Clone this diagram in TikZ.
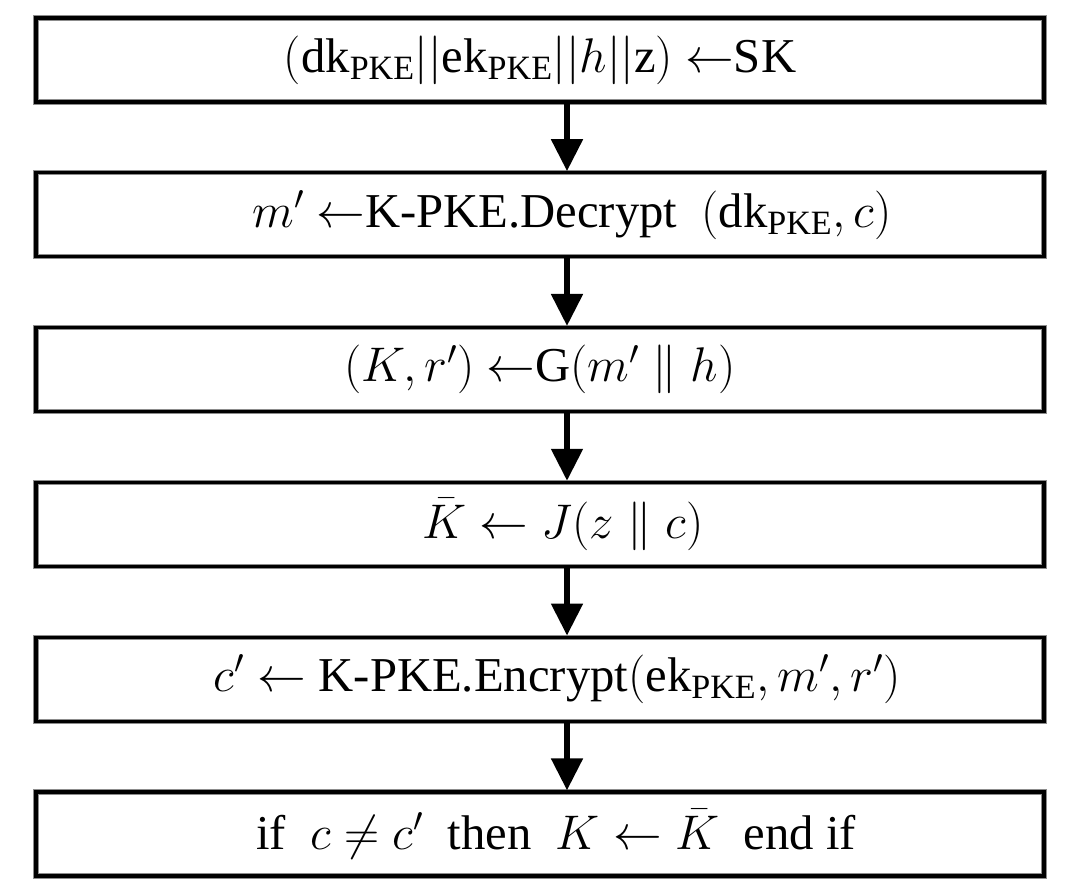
\RequirePackage{fix-cm}
\documentclass[tikz,border=0pt]{standalone}
\usepackage{fontspec}
\setmainfont{Liberation Serif}
\usetikzlibrary{positioning, arrows.meta}

\begin{document}
\begin{tikzpicture}[
  x=0.75pt, y=-0.75pt,              % 1 unit = 1 px of the reference
  >={Triangle[width=23pt, length=24pt]},
  font=\fontsize{36.5}{42}\selectfont,
  stepbox/.style={draw=black, line width=2.4pt,
    preaction={draw=black!45, line width=3.8pt},
    rectangle, minimum width=756pt, minimum height=63pt, inner sep=0pt},
  flow/.style={->, line width=4.5pt},
  node distance=50.7pt              % gap between the boxes
  ]
  \useasboundingbox (0,0) rectangle (1080,887);

  % x of the arrows
  \coordinate (ax) at (567,0);

  % --- boxes ---
  \node [stepbox] (sk) at (540,60)
    {$(\mathrm{dk}_{\mathrm{PKE}}||\mathrm{ek}_{\mathrm{PKE}}||h||\mathrm{z})$ $\leftarrow$SK};
  \node [stepbox, below=of sk] (dec)
    {\hspace*{48pt}$m'$ $\leftarrow$K-PKE.Decrypt\ \ $(\mathrm{dk}_{\mathrm{PKE}}, c)$};
  \node [stepbox, below=of dec] (hash)
    {$(K, r')$ $\leftarrow$G$(m' \parallel h)$};
  \node [stepbox, below=of hash] (rej)
    {\hspace*{34pt}$\bar{K} \leftarrow J(z \parallel c)$};
  \node [stepbox, below=of rej] (enc)
    {\hspace*{26pt}$c' \leftarrow$\ K-PKE.Encrypt$(\mathrm{ek}_{\mathrm{PKE}}, m', r')$};
  \node [stepbox, below=of enc] (cmp)
    {\hspace*{24pt}if\ \ $c \neq c'$\ \ then\ \ $K \leftarrow \bar{K}$\ \ end if};

  % --- arrows ---
  \draw [flow] (sk.south -| ax) -- (dec.north -| ax);
  \draw [flow] (dec.south -| ax) -- (hash.north -| ax);
  \draw [flow] (hash.south -| ax) -- (rej.north -| ax);
  \draw [flow] (rej.south -| ax) -- (enc.north -| ax);
  \draw [flow] (enc.south -| ax) -- (cmp.north -| ax);

\end{tikzpicture}
\end{document}
